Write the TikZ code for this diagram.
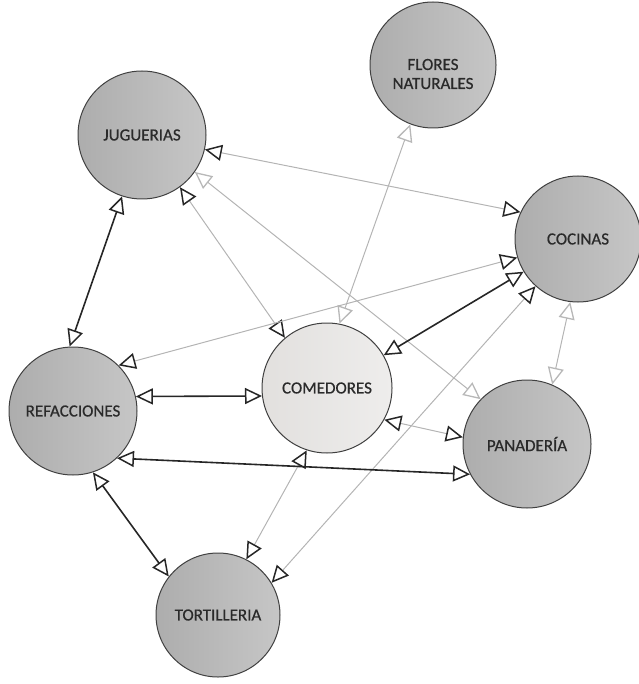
\documentclass[tikz,border=0pt]{standalone}
\usepackage{fontspec}
\setmainfont{Carlito}
\newfontfamily\lblfont{Carlito}[FakeBold=0.6]
\usetikzlibrary{arrows.meta}
\definecolor{rim}{HTML}{404040}
\definecolor{ballL}{HTML}{ADADAD}
\definecolor{ballR}{HTML}{C6C6C6}
\definecolor{paleL}{HTML}{E2E0DE}
\definecolor{paleR}{HTML}{EEEDEC}
\definecolor{txt}{HTML}{2A2A2A}
\definecolor{darkline}{HTML}{262626}
\definecolor{greyline}{HTML}{B4B4B4}
\definecolor{lighthead}{HTML}{B8B8B8}
\tikzset{
  hd/.tip={Triangle[length=17pt,width=16pt,fill=white,color=darkline,line width=1.5pt]},
  hl/.tip={Triangle[length=17pt,width=16pt,fill=white,color=lighthead,line width=1.3pt]},
}
\begin{document}
\begin{tikzpicture}[x=1pt,y=-1pt,
  hub/.style={circle, draw=rim, line width=1pt, inner sep=0pt,
    left color=ballL, right color=ballR, text=txt,
    font=\lblfont\fontsize{17}{19}\selectfont, align=center},
  centre/.style={hub, left color=paleL, right color=paleR},
  lbl/.style={text=txt, font=\lblfont\fontsize{17}{19}\selectfont, align=center, inner sep=0pt},
  dk/.style={draw=darkline, line width=1.6pt, hd-hd},
  gd/.style={draw=greyline, line width=1pt, hd-hd},
  gl/.style={draw=greyline, line width=1pt, hl-hl},
]
\useasboundingbox (0,0) rectangle (638,684);

% outlets
\node[hub, minimum size=128pt] (jug) at (142,135) {JUGUERIAS};
\node[hub, minimum size=126pt] (flo) at (433,65) {};
\node[lbl] (flotext) at (433,74) {FLORES\\NATURALES};
\node[hub, minimum size=126pt] (coc) at (578,239) {COCINAS};
\node[centre, minimum size=130pt] (com) at (327,388) {COMEDORES};
\node[hub, minimum size=128pt] (ref) at (73,411) {REFACCIONES};
\node[hub, minimum size=128pt] (pan) at (527,444) {PANADERÍA};
\node[hub, minimum size=124pt] (tor) at (218,615) {TORTILLERIA};

% weak links, light heads
\draw[gl] (jug.-35) -- (pan.136);
\draw[gl] (flo.-111) -- (com.79);
\draw[gl] (coc.-97) -- (pan.67);

% weak links, dark heads
\draw[gd] (jug.-13) -- (coc.155);
\draw[gd] (jug.-54) -- (com.130);
\draw[gd] (coc.197) -- (ref.45);
\draw[gd] (coc.228) -- (tor.31);
\draw[gd] (com.-29) -- (pan.174);
\draw[gd] (com.-108) -- (tor.63);

% strong links
\draw[dk] (jug.-108) -- (ref.93);
\draw[dk] (ref.13) -- (com.187);
\draw[dk] (ref.-47) -- (pan.208);
\draw[dk] (ref.-72) -- (tor.142);
\draw[dk] (coc.211) -- (com.30);
\end{tikzpicture}
\end{document}
